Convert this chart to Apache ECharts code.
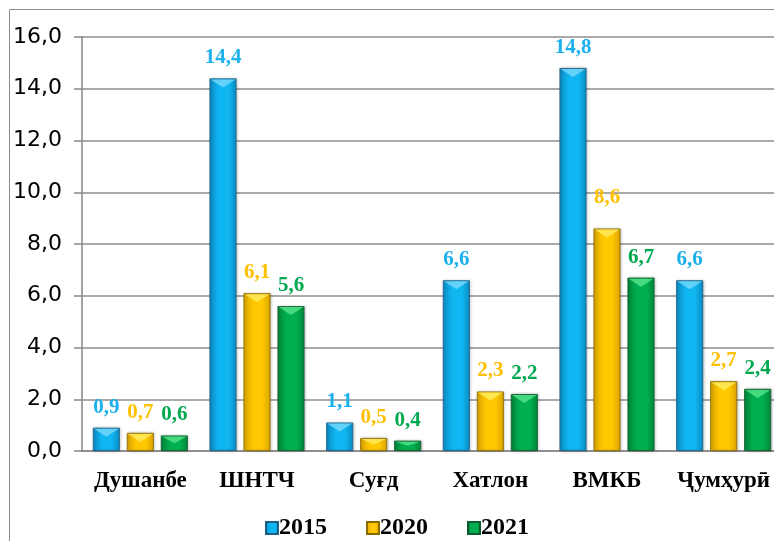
<!DOCTYPE html>
<html>
<head>
<meta charset="utf-8">
<script src="https://cdn.jsdelivr.net/npm/echarts@6/dist/echarts.min.js"></script>
<style>
  html, body { margin: 0; padding: 0; background: #fff; }
  #chart { width: 774px; height: 541px; }
</style>
</head>
<body>
<div id="chart"></div>
<script>
const categories = ['Душанбе', 'ШНТЧ', 'Суғд', 'Хатлон', 'ВМКБ', 'Ҷумҳурӣ']
const years = ['2015', '2020', '2021']
const values2015 = [0.9, 14.4, 1.1, 6.6, 14.8, 6.6]
const values2020 = [0.7, 6.1, 0.5, 2.3, 8.6, 2.7]
const values2021 = [0.6, 5.6, 0.4, 2.2, 6.7, 2.4]

const BAR_W = 27
const BAR_GAP = 7

// edge / middle / bevel / label colours per year
const palette = [
  { edge: '#0a8cc4', mid: '#10b6f2', light: '#7fdcfb', border: '#1d5d84', label: '#1cb0ec' },
  { edge: '#d9a300', mid: '#ffc800', light: '#fff06a', border: '#8a6a00', label: '#ffc000' },
  { edge: '#00853b', mid: '#00b050', light: '#5ee88e', border: '#0d5a2c', label: '#00a84f' }
]

const fmt = v => v.toFixed(1).replace('.', ',')

const chart = echarts.init(document.getElementById('chart'))

function barSeries (name, data, i) {
  const c = palette[i]
  return {
    name: name,
    type: 'bar',
    // the 8,6 label sits a bit higher in the original
    data: data.map((v, k) => (i === 1 && k === 4) ? { value: v, label: { distance: 20 } } : v),
    barWidth: BAR_W,
    barGap: (BAR_GAP / BAR_W * 100) + '%',
    itemStyle: {
      color: new echarts.graphic.LinearGradient(0, 0, 1, 0, [
        { offset: 0, color: c.edge },
        { offset: 0.35, color: c.mid },
        { offset: 0.7, color: c.mid },
        { offset: 1, color: c.edge }
      ]),
      borderColor: c.border,
      borderWidth: 0.8,
      shadowColor: 'rgba(0,0,0,0.25)',
      shadowBlur: 3,
      shadowOffsetX: 1
    },
    label: {
      show: true,
      position: 'top',
      distance: 10,
      color: c.label,
      fontFamily: 'Liberation Serif',
      fontWeight: 'bold',
      fontSize: 21,
      formatter: p => fmt(p.value)
    },
    z: 2
  }
}

// light bevel triangle on each bar top
function bevelSeries (data, i) {
  const c = palette[i]
  const offset = (i - 1) * (BAR_W + BAR_GAP)
  return {
    type: 'custom',
    data: data.map((v, k) => [k, v]),
    silent: true,
    z: 3,
    renderItem: (params, api) => {
      const p = api.coord([api.value(0), api.value(1)])
      const x = p[0] + offset
      const h = Math.min(9, (api.coord([0, 0])[1] - p[1]) / 2)
      return {
        type: 'polygon',
        shape: { points: [[x - BAR_W / 2 + 1, p[1] + 1], [x + BAR_W / 2 - 1, p[1] + 1], [x, p[1] + h]] },
        style: { fill: c.light, opacity: 0.75 }
      }
    }
  }
}

const seriesData = [values2015, values2020, values2021]

const option = {
  animation: false,
  graphic: [{
    type: 'rect',
    left: 7,
    top: 7,
    shape: { width: 800, height: 600 },
    style: { fill: 'none', stroke: '#8c8c8c', lineWidth: 1 },
    silent: true
  }],
  legend: {
    data: years,
    left: 260,
    top: 511,
    itemWidth: 12,
    itemHeight: 12,
    itemGap: 39,
    icon: 'rect',
    textStyle: {
      fontFamily: 'Liberation Serif',
      fontWeight: 'bold',
      fontSize: 24,
      color: '#000',
      padding: [0, 0, 0, -4]
    }
  },
  // plot runs past the right edge of the picture, as in the original
  grid: { left: 82, top: 37, width: 700, height: 414, containLabel: false, outerBoundsMode: 'none' },
  xAxis: {
    type: 'category',
    data: categories,
    axisLine: { lineStyle: { color: '#868686', width: 1.5 } },
    axisTick: { show: false },
    axisLabel: {
      interval: 0,
      hideOverlap: false,
      margin: 19,
      color: '#000',
      fontFamily: 'Liberation Serif',
      fontWeight: 'bold',
      fontSize: 23
    }
  },
  yAxis: {
    type: 'value',
    min: 0,
    max: 16,
    interval: 2,
    axisLine: { show: true, lineStyle: { color: '#868686', width: 1.5 } },
    axisTick: { show: true, length: 8, lineStyle: { color: '#868686', width: 1.5 } },
    splitLine: { lineStyle: { color: '#8e8e8e', width: 1.5 } },
    axisLabel: {
      margin: 20,
      color: '#000',
      fontFamily: 'DejaVu Sans',
      fontSize: 22,
      formatter: v => fmt(v)
    }
  },
  series: [
    ...years.map((y, i) => barSeries(y, seriesData[i], i)),
    ...years.map((y, i) => bevelSeries(seriesData[i], i))
  ]
}

chart.setOption(option)
</script>
</body>
</html>
